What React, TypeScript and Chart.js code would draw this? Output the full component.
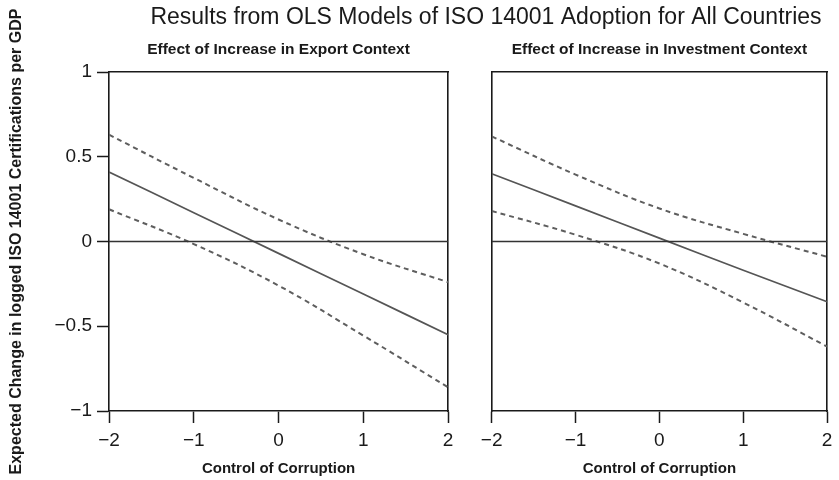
import React, { useEffect, useRef } from 'react';
import { Chart, registerables } from 'chart.js';

Chart.register(...registerables);

// ---------- text ----------
const mainTitle = 'Results from OLS Models of ISO 14001 Adoption for All Countries';
const panelTitles = ['Effect of Increase in Export Context', 'Effect of Increase in Investment Context'];
const xTitle = 'Control of Corruption';
const yTitle = 'Expected Change in logged ISO 14001 Certifications per GDP';

// ---------- data ----------
const corruption = [-2, -1, 0, 1, 2];
const exportEffect = [0.41, 0.17, -0.07, -0.31, -0.55];
const exportUpper = [0.63, 0.375, 0.13, -0.075, -0.24];
const exportLower = [0.19, -0.015, -0.26, -0.555, -0.86];
const investEffect = [0.4, 0.21, 0.02, -0.17, -0.355];
const investUpper = [0.62, 0.395, 0.195, 0.045, -0.09];
const investLower = [0.18, 0.04, -0.13, -0.36, -0.62];
const referenceX = [-2, 2];
const referenceY = [0, 0];

// ---------- ticks ----------
const xTicks = [-2, -1, 0, 1, 2];
const xTickLabels = ['\u22122', '\u22121', '0', '1', '2'];
const yTicks = [-1, -0.5, 0, 0.5, 1];
const yTickLabels = ['\u22121', '\u22120.5', '0', '0.5', '1'];

const FONT = "'Liberation Sans', Arial, Helvetica, sans-serif";
const H = 480;
const PLOT_TOP = 72;
const PLOT_BOTTOM = 411;
const INK = '#1a1a1a';

const pts = (xs: number[], ys: number[]) => xs.map((x, i) => ({ x, y: ys[i] }));

type PanelSpec = {
  canvasWidth: number;
  plotLeft: number;
  plotRight: number;
  showYAxis: boolean;
  withMainTitle: boolean;
  subtitle: string;
  mean: number[];
  upper: number[];
  lower: number[];
};

function buildConfig(p: PanelSpec): any {
  const titleFont = 23;
  const titlePadTop = 4.2;
  const titleBox = titleFont * 1.2 + titlePadTop;
  const topAxisTop = p.withMainTitle ? titleBox : 0;
  const subFont = 15.5;
  const subPadTop = 50 - topAxisTop - (subFont * 1.2) / 2;

  const dashed = {
    borderColor: '#5e5e5e',
    borderWidth: 2,
    borderDash: [5, 4],
    pointRadius: 0,
    tension: 0.4,
    fill: false,
  };

  return {
    type: 'line',
    data: {
      datasets: [
        {
          label: 'zero',
          data: pts(referenceX, referenceY),
          borderColor: '#333',
          borderWidth: 1.6,
          pointRadius: 0,
          fill: false,
        },
        {
          label: 'upper',
          data: pts(corruption, p.upper),
          ...dashed,
        },
        {
          label: 'lower',
          data: pts(corruption, p.lower),
          ...dashed,
        },
        {
          label: 'effect',
          data: pts(corruption, p.mean),
          borderColor: '#555',
          borderWidth: 1.7,
          pointRadius: 0,
          tension: 0.4,
          fill: false,
        },
      ],
    },
    options: {
      animation: false,
      responsive: false,
      maintainAspectRatio: false,
      events: [],
      layout: { padding: 0 },
      plugins: {
        legend: { display: false },
        tooltip: { enabled: false },
        title: {
          display: p.withMainTitle,
          text: mainTitle,
          color: INK,
          font: { family: FONT, size: titleFont, weight: 'normal', lineHeight: 1.2 },
          padding: { top: titlePadTop, bottom: 0 },
        },
      },
      scales: {
        x: {
          type: 'linear',
          position: 'bottom',
          min: -2,
          max: 2,
          afterBuildTicks: (s: any) => {
            s.ticks = xTicks.map((v) => ({ value: v }));
          },
          afterFit: (s: any) => {
            s.height = H - PLOT_BOTTOM;
          },
          ticks: {
            autoSkip: false,
            maxRotation: 0,
            padding: 6.6,
            color: INK,
            font: { family: FONT, size: 19, lineHeight: 1.2 },
            callback: (_v: any, i: number) => xTickLabels[i],
          },
          grid: {
            display: true,
            drawOnChartArea: false,
            drawTicks: true,
            tickLength: 12,
            tickColor: INK,
            tickWidth: 1.5,
          },
          border: { display: true, color: INK, width: 1.6 },
          title: {
            display: true,
            text: xTitle,
            color: INK,
            font: { family: FONT, size: 15, weight: 'bold', lineHeight: 1.2 },
            padding: { top: 0, bottom: 1.7 },
          },
        },
        xt: {
          type: 'linear',
          position: 'top',
          min: -2,
          max: 2,
          afterFit: (s: any) => {
            s.height = PLOT_TOP - topAxisTop;
          },
          ticks: { display: false },
          grid: { display: false },
          border: { display: true, color: INK, width: 1.6 },
          title: {
            display: true,
            text: p.subtitle,
            color: INK,
            font: { family: FONT, size: subFont, weight: 'bold', lineHeight: 1.2 },
            padding: { top: subPadTop, bottom: 0 },
          },
        },
        y: {
          type: 'linear',
          position: 'left',
          min: -1,
          max: 1,
          afterBuildTicks: (s: any) => {
            s.ticks = yTicks.map((v) => ({ value: v }));
          },
          afterFit: (s: any) => {
            s.width = p.plotLeft;
          },
          ticks: {
            display: p.showYAxis,
            autoSkip: false,
            padding: 5,
            color: INK,
            font: { family: FONT, size: 19, lineHeight: 1.2 },
            callback: (_v: any, i: number) => yTickLabels[i],
          },
          grid: {
            display: p.showYAxis,
            drawOnChartArea: false,
            drawTicks: true,
            tickLength: 12,
            tickColor: INK,
            tickWidth: 1.5,
          },
          border: { display: true, color: INK, width: 1.6 },
          title: {
            display: p.showYAxis,
            text: yTitle,
            color: INK,
            font: { family: FONT, size: 16, weight: 'bold', lineHeight: 1.2 },
            padding: { top: 6.5, bottom: 0 },
          },
        },
        yr: {
          type: 'linear',
          position: 'right',
          min: -1,
          max: 1,
          afterFit: (s: any) => {
            s.width = p.canvasWidth - p.plotRight;
          },
          ticks: { display: false },
          grid: { display: false },
          border: { display: true, color: INK, width: 1.6 },
        },
      },
    },
  };
}

const leftSpec: PanelSpec = {
  canvasWidth: 460,
  plotLeft: 109,
  plotRight: 449,
  showYAxis: true,
  withMainTitle: false,
  subtitle: panelTitles[0],
  mean: exportEffect,
  upper: exportUpper,
  lower: exportLower,
};

const RIGHT_OFFSET = 133;
const rightSpec: PanelSpec = {
  canvasWidth: 839 - RIGHT_OFFSET,
  plotLeft: 491.7 - RIGHT_OFFSET,
  plotRight: 831.7 - RIGHT_OFFSET,
  showYAxis: false,
  withMainTitle: true,
  subtitle: panelTitles[1],
  mean: investEffect,
  upper: investUpper,
  lower: investLower,
};

export default function App() {
  const leftRef = useRef<HTMLCanvasElement | null>(null);
  const rightRef = useRef<HTMLCanvasElement | null>(null);

  useEffect(() => {
    const charts: Chart[] = [];
    if (leftRef.current) charts.push(new Chart(leftRef.current, buildConfig(leftSpec)));
    if (rightRef.current) charts.push(new Chart(rightRef.current, buildConfig(rightSpec)));
    return () => charts.forEach((c) => c.destroy());
  }, []);

  return (
    <div style={{ position: 'absolute', left: 0, top: 0, width: 839, height: H, background: '#fff' }}>
      <canvas
        ref={leftRef}
        width={leftSpec.canvasWidth}
        height={H}
        style={{ position: 'absolute', left: 0, top: 0, width: leftSpec.canvasWidth, height: H }}
      />
      <canvas
        ref={rightRef}
        width={rightSpec.canvasWidth}
        height={H}
        style={{ position: 'absolute', left: RIGHT_OFFSET, top: 0, width: rightSpec.canvasWidth, height: H }}
      />
    </div>
  );
}
